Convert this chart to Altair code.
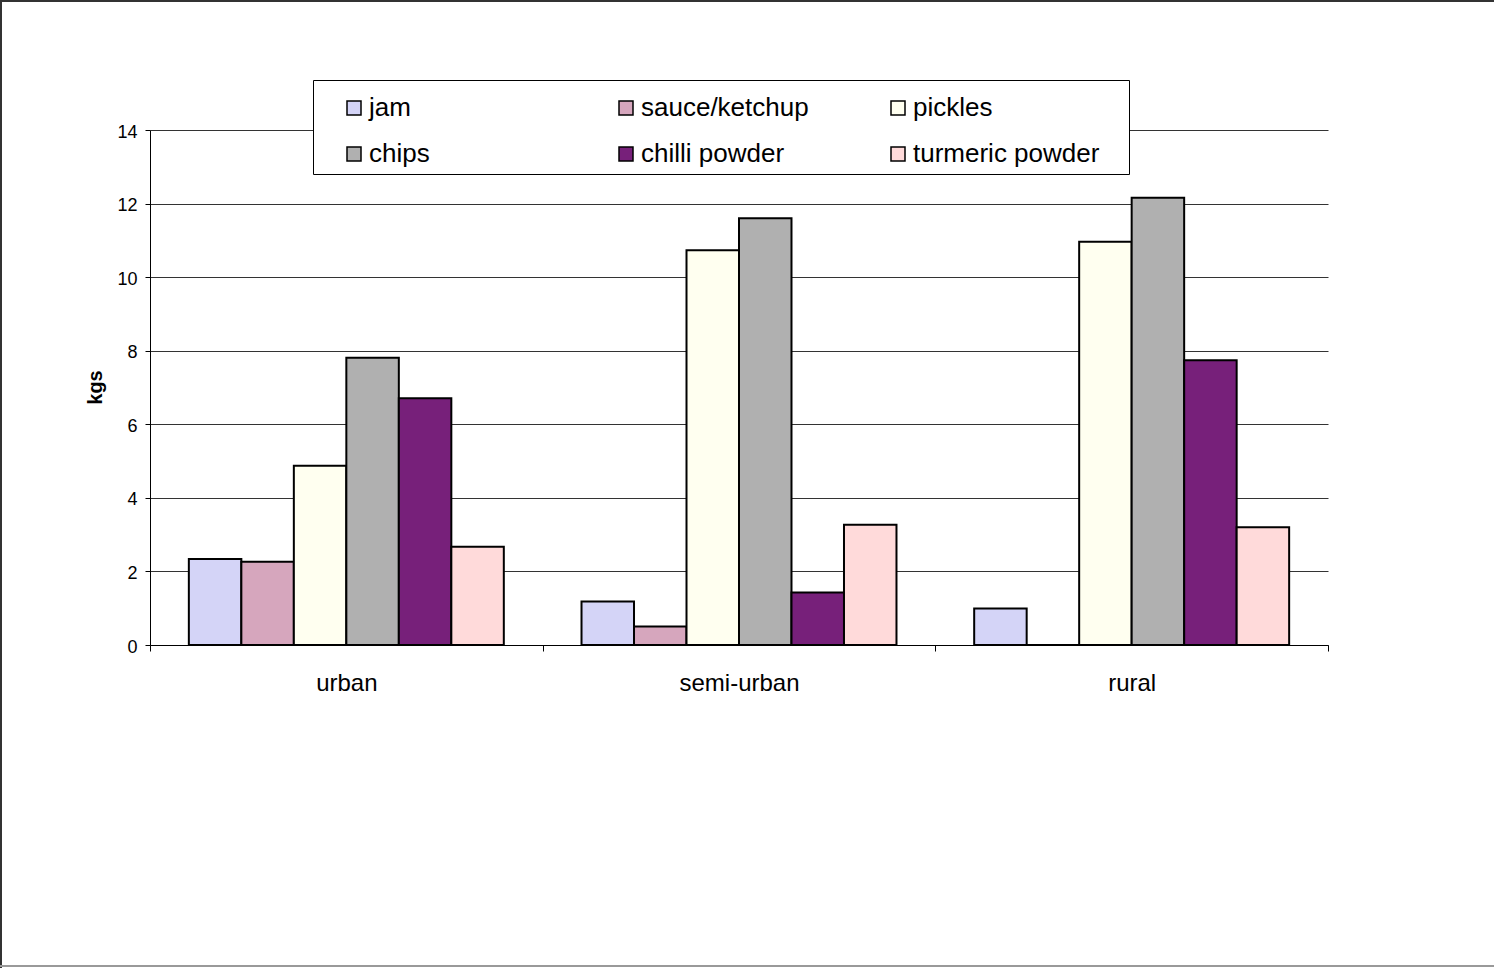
import altair as alt
import pandas as pd

# Consumption per household (kgs) by area and product
areas = ["urban", "semi-urban", "rural"]
products = ["jam", "sauce/ketchup", "pickles", "chips", "chilli powder", "turmeric powder"]

jam = [2.34, 1.18, 0.99]
sauce_ketchup = [2.26, 0.50, 0.0]
pickles = [4.87, 10.73, 10.96]
chips = [7.81, 11.60, 12.16]
chilli_powder = [6.71, 1.43, 7.74]
turmeric_powder = [2.67, 3.27, 3.20]

series = [jam, sauce_ketchup, pickles, chips, chilli_powder, turmeric_powder]
fills = ["#d4d4f7", "#d6a6bd", "#fffff0", "#b0b0b0", "#77207a", "#ffdada"]
y_ticks = [0, 2, 4, 6, 8, 10, 12, 14]

rows = []
for product, values in zip(products, series):
    for area, v in zip(areas, values):
        rows.append({"area": area, "product": product, "kgs": v})
df = pd.DataFrame(rows)

FONT = "Liberation Sans"

bars = alt.Chart(df).mark_bar(stroke="black", strokeWidth=2).encode(
    x=alt.X(
        "area:N",
        sort=areas,
        scale=alt.Scale(paddingInner=0, paddingOuter=0),
        axis=alt.Axis(
            title=None,
            tickBand="extent",
            tickSize=6,
            tickColor="black",
            domainColor="black",
            labelColor="black",
            labelFontSize=24,
            labelPadding=20,
            labelAngle=0,
        ),
    ),
    xOffset=alt.XOffset(
        "product:N",
        sort=products,
        scale=alt.Scale(domain=products, paddingInner=0, paddingOuter=0.74),
    ),
    y=alt.Y(
        "kgs:Q",
        scale=alt.Scale(domain=[0, 14], nice=False),
        axis=alt.Axis(
            values=y_ticks,
            title="kgs",
            titleFontSize=20,
            titleFontWeight="bold",
            titleColor="black",
            titleAngle=270,
            titleX=-55,
            titleY=257,
            titleAlign="center",
            titleBaseline="middle",
            grid=True,
            gridColor="#333333",
            gridWidth=1,
            domainColor="black",
            tickColor="black",
            tickSize=5,
            labelColor="black",
            labelFontSize=18,
            labelPadding=8,
            labelBaseline="middle",
            labelOffset=2,
        ),
    ),
    color=alt.Color(
        "product:N",
        sort=products,
        scale=alt.Scale(domain=products, range=fills),
        legend=alt.Legend(
            title=None,
            orient="none",
            legendX=191,
            legendY=-35,
            direction="horizontal",
            columns=3,
            gridAlign="all",
            symbolType="square",
            symbolSize=196,
            symbolStrokeColor="black",
            symbolStrokeWidth=1.5,
            labelFontSize=26,
            labelColor="black",
            labelOffset=2,
            labelLimit=400,
            columnPadding=57,
            rowPadding=20,
            padding=0,
        ),
    ),
)

# White legend frame drawn over the top gridline
edge = pd.DataFrame({"edge": [0]})
legend_box = alt.Chart(edge).mark_rect(
    fill="white", stroke="black", strokeWidth=1
).encode(
    x=alt.value(163.5), x2=alt.value(979.5), y=alt.value(-49.5), y2=alt.value(44.5)
)

# Page frame edges
top_edge = alt.Chart(edge).mark_rule(color="#333333", strokeWidth=2).encode(
    x=alt.value(-150), x2=alt.value(1344), y=alt.value(-129)
)
left_edge = alt.Chart(edge).mark_rule(color="#333333", strokeWidth=2).encode(
    x=alt.value(-149), y=alt.value(-130), y2=alt.value(838)
)
bottom_edge = alt.Chart(edge).mark_rule(color="#999999", strokeWidth=2).encode(
    x=alt.value(-150), x2=alt.value(1344), y=alt.value(836)
)

chart = (
    alt.layer(bars, legend_box, top_edge, left_edge, bottom_edge)
    .properties(
        width=1178,
        height=515,
        padding={"left": 150, "top": 130, "right": 166, "bottom": 323},
        autosize=alt.AutoSizeParams(type="none"),
        background="white",
    )
    .configure(font=FONT)
    .configure_view(stroke="transparent")
)

chart.save("out.html", embed_options={"renderer": "svg", "actions": False})
